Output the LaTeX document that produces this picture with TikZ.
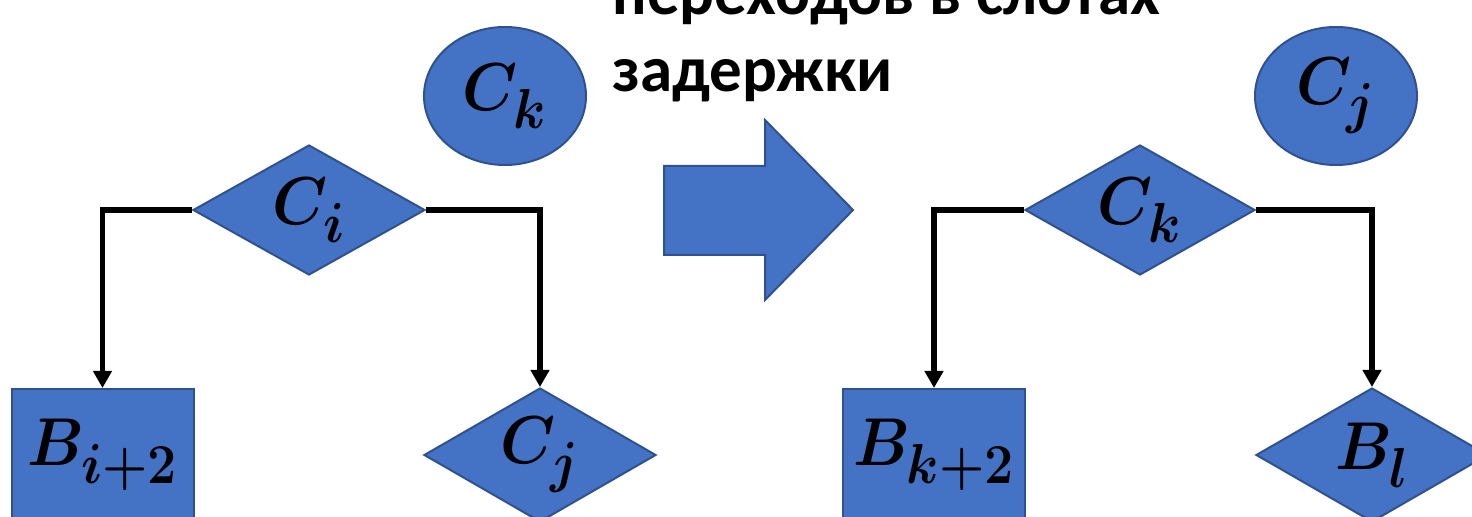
\documentclass[tikz,border=0pt]{standalone}
\usepackage{fontspec}
\setmainfont{Carlito}
\usepackage{amsmath,bm}
\usepackage{pdfrender}
\usetikzlibrary{shapes.geometric,arrows.meta}
\definecolor{shapefill}{HTML}{4472C4}
\definecolor{shapeline}{HTML}{2F528F}
\newcommand{\heavylbl}[2]{\scalebox{1.25}[1.36]{\textpdfrender{TextRenderingMode=FillStroke,LineWidth=1.4pt,LineJoinStyle=Round}{$\bm{#1}_{\raisebox{-3pt}{$\scriptstyle\bm{#2}$}}$}}}
\begin{document}
\begin{tikzpicture}[x=0.5pt,y=-0.5pt,
  shp/.style={fill=shapefill, draw=shapeline, line width=1pt, inner sep=0pt},
  lbl/.style={inner sep=0pt, font=\fontsize{24.88}{30}\selectfont},
  ell/.style={shp, ellipse, minimum width=81pt, minimum height=69pt},
  dia/.style={shp, diamond, minimum width=116pt, minimum height=65pt},
  dialow/.style={shp, diamond, minimum width=116pt, minimum height=67pt},
  boxlow/.style={shp, rectangle, minimum width=91pt, minimum height=66pt},
  conn/.style={line width=2.8pt, -{Triangle[width=9pt,length=8.5pt]}},
  bigarrow/.style={fill=shapefill, draw=shapeline, line width=1pt, line join=miter},
  caption/.style={anchor=base west, inner sep=0pt, font=\fontsize{32.5}{38}\selectfont\bfseries}]
\useasboundingbox (0,0) rectangle (1472,517);
\clip (0,0) rectangle (1472,517);
% caption
\node[caption] (t1) at (612,15) {переходов в слотах};
\node[caption] (t2) at (612,92) {задержки};
% left group
\node[ell, label={[lbl]center:\heavylbl{C}{k}}] (ck) at (505,96) {};
\node[dia, label={[lbl]center:\heavylbl{C}{i}}] (ci) at (309,210) {};
\node[boxlow, label={[lbl]center:\heavylbl{B}{i+2}}] (bi) at (102.5,455) {};
\node[dialow, label={[lbl]center:\heavylbl{C}{j}}] (cj) at (540,455) {};
\draw[conn] (ci.west) -| (bi.north);
\draw[conn] (ci.east) -| (cj.north);
% block arrow
\coordinate (a1) at (664,166);
\coordinate (a2) at (765,166);
\coordinate (a3) at (765,120);
\coordinate (a4) at (853,210);
\coordinate (a5) at (765,300);
\coordinate (a6) at (765,255);
\coordinate (a7) at (664,255);
\draw[bigarrow] (a1) -- (a2) -- (a3) -- (a4) -- (a5) -- (a6) -- (a7) -- cycle;
% right group
\node[ell, label={[lbl]center:\heavylbl{C}{j}}] (cj2) at (1336,96) {};
\node[dia, minimum width=115pt, label={[lbl]center:\heavylbl{C}{k}}] (ck2) at (1140,210) {};
\node[boxlow, label={[lbl]center:\heavylbl{B}{k+2}}] (bk) at (934,455) {};
\node[dialow, label={[lbl]center:\heavylbl{B}{l}}] (bl) at (1372,455) {};
\draw[conn] (ck2.west) -| (bk.north);
\draw[conn] (ck2.east) -| (bl.north);
\end{tikzpicture}
\end{document}
